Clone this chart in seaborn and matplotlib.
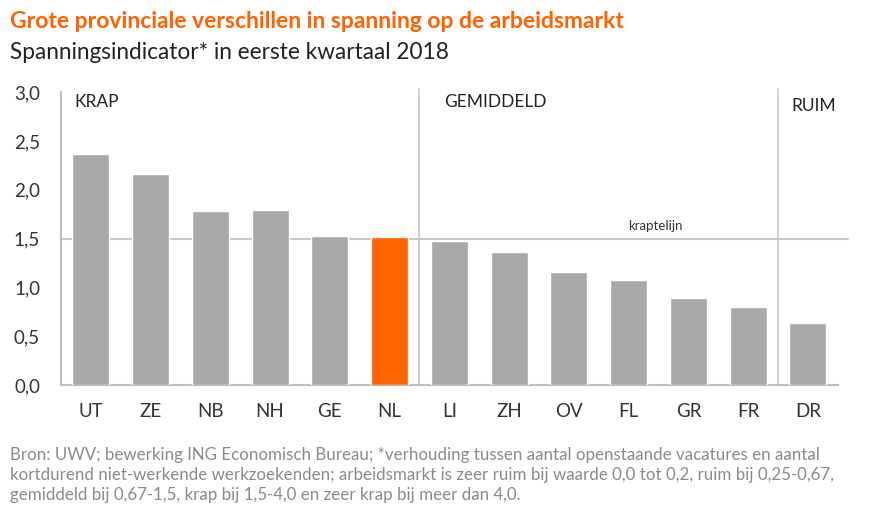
import pandas as pd
import matplotlib.pyplot as plt
import seaborn as sns

provincies = ["UT", "ZE", "NB", "NH", "GE", "NL", "LI", "ZH", "OV", "FL", "GR", "FR", "DR"]
spanning = [2.37, 2.16, 1.78, 1.79, 1.53, 1.52, 1.47, 1.36, 1.16, 1.08, 0.89, 0.80, 0.64]
kraptelijn = 1.5
grenzen = [5.5, 11.5]
yticks = [0.0, 0.5, 1.0, 1.5, 2.0, 2.5, 3.0]

sns.set_style("white")
plt.rcParams['font.family'] = ['Lato', 'DejaVu Sans']

data = pd.DataFrame({"provincie": provincies, "waarde": spanning})
kleuren = {p: ("#ff6200" if p == "NL" else "#a8a8a8") for p in provincies}

fig = plt.figure(figsize=(8.7, 5.09), dpi=100)
ax = fig.add_axes([0.070, 0.2436, 0.893, 0.5754])
sns.barplot(data=data, x="provincie", y="waarde", hue="provincie", palette=kleuren,
            width=0.62, saturation=1, legend=False, ax=ax, zorder=3)

ax.set_xlim(-0.5, 12.5)
ax.set_ylim(0, 3.0)
ax.set_yticks(yticks)
ax.set_yticklabels([f"{v:.1f}".replace(".", ",") for v in yticks])
ax.set_xlabel("")
ax.set_ylabel("")
ax.tick_params(axis="both", length=0, labelsize=13.5, colors="#333333")
ax.tick_params(axis="x", pad=13)
ax.tick_params(axis="y", pad=15)

for s in ["top", "right"]:
    ax.spines[s].set_visible(False)
for s in ["left", "bottom"]:
    ax.spines[s].set_color("#bdbdbd")
    ax.spines[s].set_linewidth(1.5)
ax.spines["left"].set_zorder(5)

ax.plot([-0.5, 12.67], [kraptelijn, kraptelijn], color="#c8c8c8", lw=1.5, zorder=2, clip_on=False)
ax.text(9.45, 1.57, "kraptelijn", fontsize=9.5, color="#333333", ha="center", va="bottom")
for g in grenzen:
    ax.plot([g, g], [0, 3.03], color="#c8c8c8", lw=1.2, zorder=2, clip_on=False)

ax.text(-0.27, 2.98, "KRAP", fontsize=12.5, color="#222222", va="top")
ax.text(5.92, 2.98, "GEMIDDELD", fontsize=12.5, color="#222222", va="top")
ax.text(11.72, 2.94, "RUIM", fontsize=12.5, color="#222222", va="top")

fig.text(0.012, 0.958, "Grote provinciale verschillen in spanning op de arbeidsmarkt",
         fontsize=16.5, fontweight="bold", color="#ff6200", va="center")
fig.text(0.012, 0.897, "Spanningsindicator* in eerste kwartaal 2018",
         fontsize=16.3, color="#222222", va="center")
fig.text(0.012, 0.012,
         "Bron: UWV; bewerking ING Economisch Bureau; *verhouding tussen aantal openstaande vacatures en aantal\n"
         "kortdurend niet-werkende werkzoekenden; arbeidsmarkt is zeer ruim bij waarde 0,0 tot 0,2, ruim bij 0,25-0,67,\n"
         "gemiddeld bij 0,67-1,5, krap bij 1,5-4,0 en zeer krap bij meer dan 4,0.",
         fontsize=12.2, color="#8a8a8a", va="bottom", linespacing=1.3)

fig.savefig("out.png", dpi=100)
